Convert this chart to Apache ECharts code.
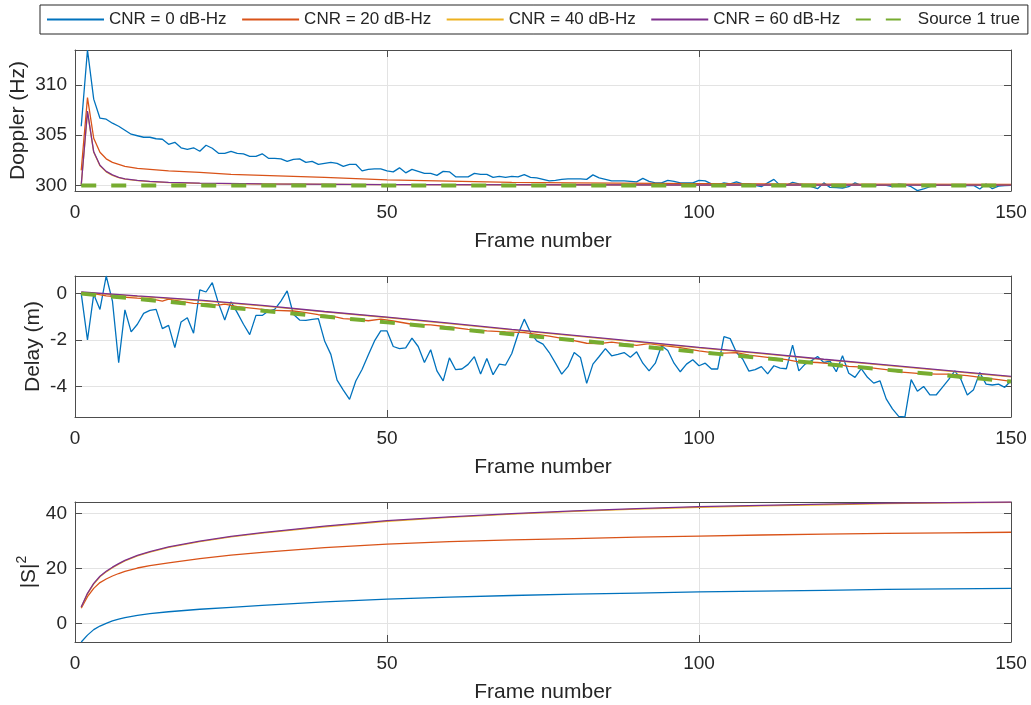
<!DOCTYPE html>
<html>
<head>
<meta charset="utf-8">
<title>Doppler / Delay / |S|^2 vs frame number</title>
<script src="https://cdn.jsdelivr.net/npm/echarts@6.0.0/dist/echarts.min.js"></script>
<style>
  html, body { margin: 0; padding: 0; background: #fff; }
  #main { width: 1031px; height: 705px; }
</style>
</head>
<body>
<div id="main"></div>
<script>
// series names (legend)
var names = ['CNR = 0 dB-Hz', 'CNR = 20 dB-Hz', 'CNR = 40 dB-Hz', 'CNR = 60 dB-Hz', 'Source 1 true'];
var colors = ['#0072BD', '#D95319', '#EDB120', '#7E2F8E', '#77AC30'];

// --- Doppler (Hz), frames 1..150 for CNR 0
var dopplerCnr0 = [
  305.9, 313.5, 308.6, 306.7, 306.6, 306.2, 305.9, 305.5, 305.1, 304.95,
  304.8, 304.8, 304.65, 304.6, 304.1, 304.3, 303.75, 303.6, 303.75, 303.4,
  304.0, 303.7, 303.2, 303.2, 303.4, 303.2, 303.15, 302.9, 302.9, 303.15,
  302.7, 302.7, 302.65, 302.4, 302.6, 302.65, 302.3, 302.4, 302.1, 302.2,
  302.3, 302.2, 301.9, 302.1, 302.1, 301.45, 301.6, 301.65, 301.65, 301.45,
  301.35, 301.75, 301.25, 301.6, 301.4, 301.2, 301.2, 301.0, 301.4, 301.35,
  300.85, 300.85, 300.85, 301.2, 301.1, 301.1, 300.8, 300.9, 300.8, 300.9,
  300.85, 301.08, 300.8, 300.75, 300.6, 300.45, 300.5, 300.6, 300.65, 300.65,
  300.65, 300.6, 301.05, 300.75, 300.6, 300.45, 300.45, 300.45, 300.4, 300.35,
  300.7, 300.4, 300.25, 300.25, 300.5, 300.4, 300.25, 300.25, 300.25, 300.5,
  300.45, 300.15, 300.05, 300.25, 300.15, 300.35, 300.15, 300.15, 300.0, 299.87,
  300.25, 300.6, 300.0, 300.0, 300.3, 300.15, 300.05, 299.87, 299.67, 300.25,
  299.8, 299.77, 299.74, 299.87, 300.25, 300.0, 299.93, 299.93, 300.05, 300.0,
  299.87, 300.13, 300.07, 299.87, 299.48, 299.64, 299.87, 300.0, 300.0, 300.0,
  300.0, 299.93, 299.97, 300.0, 299.64, 300.13, 299.67, 299.93, 299.97, 300.0
];
var dopplerFrames20 = [1, 2, 3, 4, 5, 6, 7, 8, 9, 10, 12, 15, 20, 25, 30, 35, 40, 45, 50, 60, 70, 80, 100, 120, 150];
var dopplerCnr20 = [301.5, 308.75, 304.7, 303.3, 302.65, 302.3, 302.1, 301.9, 301.8, 301.7, 301.6, 301.45, 301.3, 301.1, 301.0, 300.9, 300.8, 300.68, 300.55, 300.42, 300.3, 300.25, 300.18, 300.13, 300.1];
var dopplerFramesHi = [1, 2, 3, 4, 5, 6, 7, 8, 10, 12, 15, 20, 30, 50, 100, 150];
var dopplerCnr40 = [300.05, 307.3, 303.3, 301.95, 301.35, 301.0, 300.78, 300.63, 300.48, 300.38, 300.28, 300.2, 300.14, 300.07, 300.04, 300.02];
var dopplerCnr60 = [300.05, 307.4, 303.35, 302.0, 301.4, 301.05, 300.8, 300.65, 300.5, 300.4, 300.3, 300.22, 300.15, 300.08, 300.04, 300.02];
var dopplerTrueFrames = [1, 150];
var dopplerTrue = [300, 300];

// --- Delay (m), frames 1..150 for CNR 0
var delayCnr0 = [
  0, -2.0, -0.03, -0.68, 0.76, -0.32, -2.98, -0.70, -1.65, -1.32,
  -0.85, -0.72, -0.68, -1.51, -1.37, -2.33, -1.22, -1.04, -1.71, 0.16,
  0.07, 0.47, -0.42, -1.14, -0.35, -0.82, -1.32, -1.77, -0.94, -0.94,
  -0.75, -0.68, -0.32, 0.12, -0.89, -1.14, -1.15, -1.11, -1.08, -2.04,
  -2.62, -3.73, -4.16, -4.56, -3.77, -3.27, -2.65, -2.04, -1.61, -1.61,
  -2.28, -2.37, -2.34, -1.92, -2.28, -2.97, -2.42, -3.33, -3.76, -2.77,
  -3.28, -3.25, -3.05, -2.72, -3.47, -2.80, -3.50, -3.04, -3.08, -2.58,
  -1.75, -1.10, -1.68, -2.04, -2.18, -2.54, -3.00, -3.47, -3.15, -2.54,
  -2.75, -3.87, -3.04, -2.71, -2.37, -2.68, -2.62, -2.54, -2.74, -2.51,
  -3.00, -3.33, -3.00, -2.25, -2.45, -3.00, -3.37, -3.04, -2.85, -3.11,
  -3.00, -3.25, -3.25, -1.85, -1.94, -2.54, -2.82, -3.34, -3.28, -3.15,
  -3.46, -3.11, -3.21, -3.24, -2.22, -3.33, -3.04, -2.90, -2.71, -2.97,
  -2.91, -3.37, -2.68, -3.43, -3.61, -3.23, -3.61, -3.86, -3.76, -4.54,
  -4.97, -5.29, -5.32, -3.71, -4.21, -4.00, -4.37, -4.37, -4.04, -3.71,
  -3.33, -3.71, -4.37, -4.14, -3.40, -3.90, -3.94, -3.90, -4.04, -3.76
];
var delayFrames20 = [1, 3, 5, 7, 10, 12, 14, 15, 17, 19, 21, 23, 24, 26, 29, 31, 32, 35, 37, 39, 41, 43, 45, 47, 49, 51, 54, 57, 60, 63, 66, 69, 72, 76, 79, 82, 84, 86, 90, 92, 94, 97, 100, 103, 106, 108, 111, 114, 116, 119, 122, 124, 127, 130, 132, 135, 138, 140, 143, 146, 148, 150];
var delayCnr20 = [0, 0, -0.10, -0.14, -0.19, -0.22, -0.32, -0.24, -0.33, -0.42, -0.43, -0.50, -0.45, -0.56, -0.65, -0.71, -0.72, -0.75, -0.82, -0.91, -0.96, -1.08, -1.11, -1.17, -1.10, -1.18, -1.32, -1.35, -1.44, -1.54, -1.61, -1.65, -1.68, -1.83, -1.97, -2.14, -2.16, -2.09, -2.23, -2.16, -2.23, -2.33, -2.47, -2.58, -2.54, -2.65, -2.75, -2.85, -2.94, -2.97, -3.04, -3.14, -3.18, -3.28, -3.37, -3.44, -3.47, -3.47, -3.54, -3.64, -3.71, -3.78];
var delayFramesHi = [1, 10, 20, 30, 40, 50, 60, 70, 80, 90, 100, 110, 120, 130, 140, 150];
var delayCnr40 = [0.05, -0.12, -0.30, -0.53, -0.79, -1.03, -1.29, -1.56, -1.82, -2.08, -2.34, -2.59, -2.85, -3.09, -3.34, -3.59];
var delayCnr60 = [0.07, -0.10, -0.28, -0.51, -0.77, -1.01, -1.27, -1.54, -1.80, -2.06, -2.32, -2.57, -2.83, -3.07, -3.32, -3.57];
var delayTrueFrames = [1, 50, 100, 150];
var delayTrue = [0, -1.24, -2.52, -3.79];

// --- |S|^2
var powerFrames = [1, 2, 3, 4, 5, 6, 7, 8, 10, 12, 15, 20, 25, 30, 40, 50, 60, 70, 80, 90, 100, 110, 120, 130, 140, 150];
var powerCnr0 = [-6.7, -4.2, -2.2, -0.9, 0.1, 1.0, 1.6, 2.2, 3.0, 3.6, 4.3, 5.2, 5.9, 6.6, 7.9, 8.9, 9.6, 10.2, 10.7, 11.1, 11.5, 11.8, 12.1, 12.4, 12.6, 12.8];
var powerCnr20 = [5.6, 9.8, 12.8, 14.9, 16.2, 17.3, 18.2, 19.0, 20.2, 21.1, 22.1, 23.6, 24.9, 25.9, 27.6, 28.9, 29.8, 30.4, 30.9, 31.4, 31.8, 32.2, 32.5, 32.8, 33.0, 33.2];
var powerCnr40 = [5.9, 10.8, 14.4, 17.0, 18.8, 20.3, 21.6, 22.8, 24.6, 26.0, 27.7, 29.8, 31.5, 32.9, 35.2, 37.2, 38.6, 39.8, 40.8, 41.6, 42.3, 42.8, 43.2, 43.6, 43.85, 44.1];
var powerCnr60 = [6.0, 11.0, 14.6, 17.2, 19.0, 20.5, 21.8, 23.0, 24.8, 26.2, 27.9, 30.0, 31.7, 33.1, 35.4, 37.4, 38.8, 40.0, 41.0, 41.8, 42.5, 43.0, 43.4, 43.8, 44.0, 44.2];

var FONT = 'Liberation Sans, Arial, Helvetica, sans-serif';
var INK = '#262626';
var AXIS = '#4d4d4d';

function pairs(xs, ys) { return ys.map(function (v, i) { return [xs[i], v]; }); }
function byFrame(ys) { return ys.map(function (v, i) { return [i + 1, v]; }); }

var grids = [
  { left: 75, right: 20, top: 50, height: 141, outerBoundsMode: 'none', containLabel: false },
  { left: 75, right: 20, top: 276, height: 141, outerBoundsMode: 'none', containLabel: false },
  { left: 75, right: 20, top: 502, height: 140, outerBoundsMode: 'none', containLabel: false }
];
var yRanges = [
  { min: 299.44, max: 313.5, step: 5, name: 'Doppler (Hz)', gap: 46 },
  { min: -5.32, max: 0.76, step: 2, name: 'Delay (m)', gap: 31 },
  { min: -6.7, max: 44.2, step: 20, name: '{a||S|}{b|2}', gap: 32 }
];

var xAxes = [], yAxes = [];
grids.forEach(function (g, i) {
  xAxes.push({
    type: 'value', gridIndex: i, position: 'bottom', min: 0, max: 150, interval: 50,
    name: 'Frame number', nameLocation: 'middle', nameGap: 40, nameMoveOverlap: false,
    nameTextStyle: { fontFamily: FONT, fontSize: 21, color: INK },
    axisLine: { onZero: false, lineStyle: { color: AXIS, width: 1 } },
    axisTick: { inside: true, length: 7, lineStyle: { color: AXIS } },
    axisLabel: { fontFamily: FONT, fontSize: 19, color: INK, margin: 12 },
    splitLine: { show: true, lineStyle: { color: '#e3e3e3', width: 1 } }
  });
  xAxes.push({
    type: 'value', gridIndex: i, position: 'top', min: 0, max: 150, interval: 50,
    axisLine: { onZero: false, lineStyle: { color: AXIS, width: 1 } },
    axisTick: { inside: true, length: 7, lineStyle: { color: AXIS } },
    axisLabel: { show: false }, splitLine: { show: false }
  });
  var r = yRanges[i];
  yAxes.push({
    type: 'value', gridIndex: i, position: 'left', min: r.min, max: r.max,
    minInterval: r.step, maxInterval: r.step,
    name: r.name, nameLocation: 'middle', nameGap: r.gap, nameMoveOverlap: false,
    nameTextStyle: {
      fontFamily: FONT, fontSize: 21, color: INK,
      rich: {
        a: { fontFamily: FONT, fontSize: 21, color: INK, lineHeight: 28 },
        b: { fontFamily: FONT, fontSize: 14, color: INK, verticalAlign: 'top', lineHeight: 14 }
      }
    },
    axisLine: { onZero: false, lineStyle: { color: AXIS, width: 1 } },
    axisTick: { inside: true, length: 7, lineStyle: { color: AXIS } },
    axisLabel: { fontFamily: FONT, fontSize: 19, color: INK, margin: 8, showMinLabel: false, showMaxLabel: false },
    splitLine: { show: true, lineStyle: { color: '#e3e3e3', width: 1 } }
  });
  yAxes.push({
    type: 'value', gridIndex: i, position: 'right', min: r.min, max: r.max,
    minInterval: r.step, maxInterval: r.step,
    axisLine: { onZero: false, lineStyle: { color: AXIS, width: 1 } },
    axisTick: { inside: true, length: 7, lineStyle: { color: AXIS } },
    axisLabel: { show: false }, splitLine: { show: false }
  });
});

function line(k, g, data) {
  var isTrue = k === 4;
  return {
    name: names[k], type: 'line', xAxisIndex: g * 2, yAxisIndex: g * 2,
    data: data, symbol: 'none', showSymbol: false, animation: false,
    itemStyle: { color: colors[k] },
    lineStyle: isTrue
      ? { color: colors[k], width: 4, type: [15, 15] }
      : { color: colors[k], width: 1.3 }
  };
}

var series = [
  line(0, 0, byFrame(dopplerCnr0)),
  line(1, 0, pairs(dopplerFrames20, dopplerCnr20)),
  line(2, 0, pairs(dopplerFramesHi, dopplerCnr40)),
  line(3, 0, pairs(dopplerFramesHi, dopplerCnr60)),
  line(4, 0, pairs(dopplerTrueFrames, dopplerTrue)),
  line(0, 1, byFrame(delayCnr0)),
  line(1, 1, pairs(delayFrames20, delayCnr20)),
  line(2, 1, pairs(delayFramesHi, delayCnr40)),
  line(3, 1, pairs(delayFramesHi, delayCnr60)),
  line(4, 1, pairs(delayTrueFrames, delayTrue)),
  line(0, 2, pairs(powerFrames, powerCnr0)),
  line(1, 2, pairs(powerFrames, powerCnr20)),
  line(2, 2, pairs(powerFrames, powerCnr40)),
  line(3, 2, pairs(powerFrames, powerCnr60))
];

var chart = echarts.init(document.getElementById('main'), null, { renderer: 'canvas' });
chart.setOption({
  backgroundColor: '#ffffff',
  animation: false,
  legend: {
    data: names, left: 40, top: 5, orient: 'horizontal',
    padding: [6, 8, 6, 6], itemGap: 14.5, itemWidth: 57, itemHeight: 14,
    backgroundColor: '#ffffff', borderColor: '#262626', borderWidth: 1,
    itemStyle: { opacity: 0 },
    textStyle: { fontFamily: FONT, fontSize: 17, color: INK }
  },
  grid: grids,
  xAxis: xAxes,
  yAxis: yAxes,
  series: series
});
</script>
</body>
</html>
